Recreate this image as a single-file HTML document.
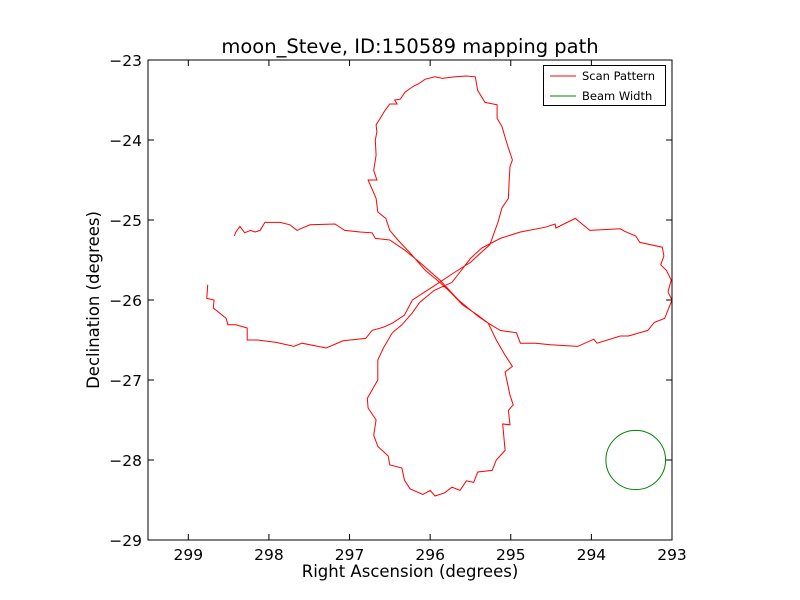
<!DOCTYPE html>
<html><head><meta charset="utf-8"><style>
html,body{margin:0;padding:0;background:#fff;}
svg{display:block;font-family:"DejaVu Sans","Liberation Sans",sans-serif;}
</style></head><body>
<svg id="chart" width="800" height="600">
<rect width="800" height="600" fill="#fff"/>
<text x="410" y="53" text-anchor="middle" font-size="19.5">moon_Steve, ID:150589 mapping path</text>
<text x="410" y="577" text-anchor="middle" font-size="16.5">Right Ascension (degrees)</text>
<text transform="translate(99,300) rotate(-90)" text-anchor="middle" font-size="16.5">Declination (degrees)</text>
<g id="ticks"></g>
<g id="plot"></g>
<rect x="148" y="60" width="524" height="480" fill="none" stroke="#000" stroke-width="1"/>
<g>
<rect x="543.5" y="65.5" width="122" height="40" fill="#fff" stroke="#000"/>
<line x1="550" y1="76" x2="576" y2="76" stroke="#f00"/>
<text x="582" y="80" font-size="11.5">Scan Pattern</text>
<line x1="550" y1="96" x2="576" y2="96" stroke="#008000"/>
<text x="582" y="100" font-size="11.5">Beam Width</text>
</g>
</svg>
<script>
const raVals=[298.43,298.41,298.36,298.30,298.23,298.17,298.11,298.05,297.86,297.74,297.65,297.61,297.49,297.18,297.06,296.87,296.72,296.68,296.50,296.31,296.13,295.88,295.65,295.41,295.28,
295.18,295.07,294.98,295.07,295.01,294.97,295.03,295.01,295.10,295.07,295.18,295.23,295.41,295.46,295.55,295.63,295.73,295.82,295.94,296.00,296.09,296.25,296.32,296.35,296.50,296.52,296.65,296.70,296.67,296.77,296.78,296.65,296.65,296.58,296.47,296.35,296.22,296.13,295.95,295.73,295.63,295.50,
295.36,295.13,294.88,294.57,294.45,294.44,294.20,294.02,293.64,293.59,293.45,293.40,293.12,293.10,293.14,293.07,293.01,293.05,293.00,293.06,293.09,293.22,293.30,293.54,293.64,293.93,293.97,294.17,294.51,294.69,294.88,294.93,295.13,295.28,295.41,295.60,295.75,295.88,296.06,
296.25,296.40,296.50,296.55,296.65,296.67,296.77,296.66,296.70,296.67,296.68,296.66,296.67,296.62,296.56,296.50,296.41,296.44,296.37,296.31,296.21,296.15,296.06,295.94,295.85,295.69,295.55,295.44,295.41,295.32,295.17,295.17,295.11,295.06,295.03,294.98,295.01,295.02,295.03,295.11,295.16,295.26,295.36,295.50,295.69,295.93,296.22,296.32,
296.47,296.58,296.72,296.80,297.08,297.29,297.39,297.59,297.69,297.91,298.14,298.27,298.27,298.41,298.51,298.53,298.69,298.68,298.77,298.76];
const decVals=[-25.20,-25.15,-25.08,-25.16,-25.13,-25.15,-25.13,-25.03,-25.03,-25.06,-25.13,-25.11,-25.06,-25.05,-25.13,-25.15,-25.16,-25.23,-25.25,-25.38,-25.53,-25.75,-26.00,-26.20,-26.29,
-26.50,-26.69,-26.83,-26.90,-27.19,-27.31,-27.38,-27.56,-27.55,-27.88,-28.00,-28.13,-28.15,-28.28,-28.26,-28.38,-28.34,-28.41,-28.45,-28.38,-28.43,-28.36,-28.25,-28.10,-28.06,-27.95,-27.83,-27.69,-27.50,-27.35,-27.23,-27.00,-26.75,-26.60,-26.41,-26.31,-26.16,-26.03,-25.88,-25.78,-25.65,-25.48,
-25.35,-25.23,-25.15,-25.09,-25.05,-25.10,-24.98,-25.13,-25.11,-25.14,-25.20,-25.28,-25.34,-25.45,-25.56,-25.63,-25.75,-25.90,-26.00,-26.15,-26.23,-26.28,-26.38,-26.45,-26.45,-26.54,-26.49,-26.58,-26.56,-26.54,-26.54,-26.41,-26.38,-26.29,-26.19,-26.06,-25.90,-25.78,-25.63,
-25.41,-25.25,-25.13,-24.98,-24.90,-24.73,-24.50,-24.50,-24.38,-24.19,-24.00,-23.90,-23.81,-23.73,-23.63,-23.55,-23.55,-23.50,-23.49,-23.40,-23.33,-23.30,-23.24,-23.21,-23.23,-23.21,-23.20,-23.21,-23.38,-23.53,-23.56,-23.73,-23.83,-24.00,-24.10,-24.25,-24.33,-24.50,-24.73,-24.85,-25.03,-25.31,-25.40,-25.53,-25.65,-25.81,-26.00,-26.19,
-26.29,-26.34,-26.38,-26.48,-26.51,-26.60,-26.58,-26.54,-26.58,-26.53,-26.50,-26.50,-26.35,-26.31,-26.31,-26.23,-26.10,-26.00,-25.98,-25.81];
const beamCenter=[293.45,-28.0];
const beamRadius=0.37;
const xTicks=[299,298,297,296,295,294,293];
const yTicks=[-23,-24,-25,-26,-27,-28,-29];
const xMin=299.5,xMax=293,yMin=-29,yMax=-23;
const L=148,R=672,T=60,B=540;
function sx(v){return L+(v-xMin)/(xMax-xMin)*(R-L);}
function sy(v){return B-(v-yMin)/(yMax-yMin)*(B-T);}
const NS='http://www.w3.org/2000/svg';
const plot=document.getElementById('plot'),tk=document.getElementById('ticks');
let d='';
for(let i=0;i<raVals.length;i++){d+=(i?'L':'M')+sx(raVals[i]).toFixed(1)+' '+sy(decVals[i]).toFixed(1);}
const p=document.createElementNS(NS,'path');
p.setAttribute('d',d);p.setAttribute('fill','none');p.setAttribute('stroke','#f00');p.setAttribute('stroke-width','1');


plot.appendChild(p);
const c=document.createElementNS(NS,'ellipse');
c.setAttribute('cx',sx(beamCenter[0]));c.setAttribute('cy',sy(beamCenter[1]));
c.setAttribute('rx',Math.abs(sx(beamCenter[0]+beamRadius)-sx(beamCenter[0])));
c.setAttribute('ry',Math.abs(sy(beamCenter[1]+beamRadius)-sy(beamCenter[1])));
c.setAttribute('fill','none');c.setAttribute('stroke','#008000');


plot.appendChild(c);
function ln(x1,y1,x2,y2,g){const l=document.createElementNS(NS,'line');l.setAttribute('x1',x1);l.setAttribute('y1',y1);l.setAttribute('x2',x2);l.setAttribute('y2',y2);l.setAttribute('stroke','#000');g.appendChild(l);return l;}
function tx(s,x,y,anc,g){const t=document.createElementNS(NS,'text');t.setAttribute('x',x);t.setAttribute('y',y);t.setAttribute('text-anchor',anc);t.setAttribute('font-size','15.5');t.textContent=s;g.appendChild(t);return t;}
xTicks.forEach(v=>{const x=sx(v);
const a=ln(x,B,x,B-6,tk);
const b=ln(x,T,x,T+6,tk);
const t=tx(String(v),x,B+20,'middle',tk);});
yTicks.forEach(v=>{const y=sy(v);
const a=ln(L,y,L+6,y,tk);
const b=ln(R,y,R-6,y,tk);
const t=tx('\u2212'+Math.abs(v),L-6,y+6,'end',tk);});
</script>
</body></html>
